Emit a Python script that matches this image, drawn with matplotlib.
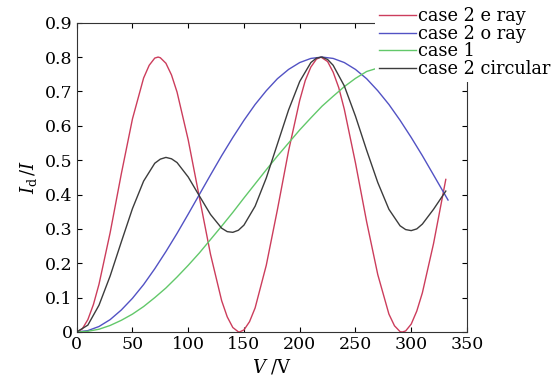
import numpy as np
import matplotlib
matplotlib.use('Agg')
from matplotlib import pyplot as plt

plt.rcParams['font.family'] = 'DejaVu Serif'
plt.rcParams['mathtext.fontset'] = 'dejavuserif'

#------------------------------------------------------------
# values
v_e = [0, 5, 10, 15, 20, 30, 40, 50, 60, 65, 70, 73, 75, 80, 85, 90, 100,
       110, 120, 130, 135, 140, 145, 146, 150, 155, 160, 170, 180, 190, 200,
       205, 210, 215, 219, 225, 230, 235, 240, 250, 260, 270, 280, 285, 290,
       292, 295, 300, 305, 310, 320, 331]
i_e = [0, 0.009, 0.036, 0.080, 0.139, 0.289, 0.460, 0.620, 0.739, 0.776,
       0.797, 0.800, 0.798, 0.782, 0.748, 0.698, 0.559, 0.392, 0.226, 0.091,
       0.044, 0.013, 0.0004, 0.0, 0.006, 0.030, 0.070, 0.194, 0.356, 0.527,
       0.674, 0.732, 0.771, 0.794, 0.800, 0.787, 0.756, 0.711, 0.648, 0.492,
       0.321, 0.167, 0.052, 0.018, 0.001, 0.0, 0.003, 0.023, 0.061, 0.114,
       0.257, 0.444]

v_o = [0, 10, 20, 30, 40, 50, 60, 70, 80, 90, 100, 110, 120, 130, 140, 150,
       160, 170, 180, 190, 200, 210, 220, 230, 240, 250, 260, 270, 280, 290,
       300, 310, 320, 333]
i_o = [0, 0.004, 0.016, 0.036, 0.064, 0.098, 0.138, 0.184, 0.234, 0.287,
       0.343, 0.400, 0.457, 0.513, 0.566, 0.616, 0.662, 0.702, 0.737, 0.764,
       0.784, 0.796, 0.800, 0.796, 0.784, 0.764, 0.737, 0.702, 0.662, 0.616,
       0.566, 0.513, 0.457, 0.384]

v_1 = [0, 10, 20, 30, 40, 50, 60, 70, 80, 90, 100, 110, 120, 130, 140, 150,
       160, 170, 180, 190, 200, 210, 220, 230, 240, 250, 260, 268]
i_1 = [0, 0.002, 0.008, 0.019, 0.034, 0.052, 0.074, 0.100, 0.128, 0.160,
       0.194, 0.230, 0.269, 0.308, 0.348, 0.390, 0.431, 0.472, 0.512, 0.550,
       0.588, 0.623, 0.657, 0.686, 0.714, 0.738, 0.758, 0.766]

v_c = [0, 10, 20, 30, 40, 50, 60, 70, 75, 80, 85, 90, 100, 110, 120, 130,
       135, 140, 145, 150, 160, 170, 180, 190, 200, 210, 215, 220, 225, 230,
       240, 250, 260, 270, 280, 290, 295, 300, 305, 310, 320, 331]
i_c = [0, 0.020, 0.078, 0.163, 0.262, 0.359, 0.439, 0.491, 0.503, 0.508,
       0.504, 0.493, 0.451, 0.396, 0.342, 0.302, 0.292, 0.290, 0.296, 0.311,
       0.366, 0.448, 0.547, 0.646, 0.729, 0.784, 0.797, 0.800, 0.793, 0.776,
       0.716, 0.628, 0.529, 0.435, 0.357, 0.309, 0.298, 0.295, 0.300, 0.314,
       0.357, 0.410]

labels = ['case 2 e ray', 'case 2 o ray', 'case 1', 'case 2 circular']
colors = ['#cc3d5c', '#5252c4', '#62c86a', '#3c3c3c']

x_ticks = [0, 50, 100, 150, 200, 250, 300, 350]
y_ticks = [0, 0.1, 0.2, 0.3, 0.4, 0.5, 0.6, 0.7, 0.8, 0.9]
y_ticklabels = ['0', '0.1', '0.2', '0.3', '0.4', '0.5', '0.6', '0.7', '0.8', '0.9']

#------------------------------------------------------------
fig = plt.figure(figsize=(5.55, 3.77), dpi=100)
ax = fig.add_axes([0.1382, 0.1194, 0.7032, 0.8204])

for (V, I, lab, col) in zip([v_e, v_o, v_1, v_c], [i_e, i_o, i_1, i_c],
                            labels, colors):
    ax.plot(V, I, c=col, lw=1.0, label=lab)

ax.set_xlim(0, 350)
ax.set_ylim(0, 0.9)
ax.set_xticks(x_ticks)
ax.set_yticks(y_ticks)
ax.set_yticklabels(y_ticklabels)
ax.tick_params(direction='in', top=True, right=True, length=3.5,
               width=0.8, labelsize=12.5, pad=3)
for sp in ax.spines.values():
    sp.set_linewidth(0.8)
    sp.set_color('#333333')

ax.set_xlabel(r'$V$ /V', fontsize=13, labelpad=3)
ax.set_ylabel(r'$I_{\rm d}\,/I$', fontsize=13, labelpad=4)

leg = ax.legend(loc='upper right', bbox_to_anchor=(1.0, 0.992),
                bbox_transform=fig.transFigure, borderaxespad=0,
                fontsize=12.8, labelspacing=-0.03, handlelength=2.1,
                handletextpad=0.1, borderpad=0.25, fancybox=False,
                framealpha=1, edgecolor='none', facecolor='white')

plt.savefig('out.png', dpi=100)
